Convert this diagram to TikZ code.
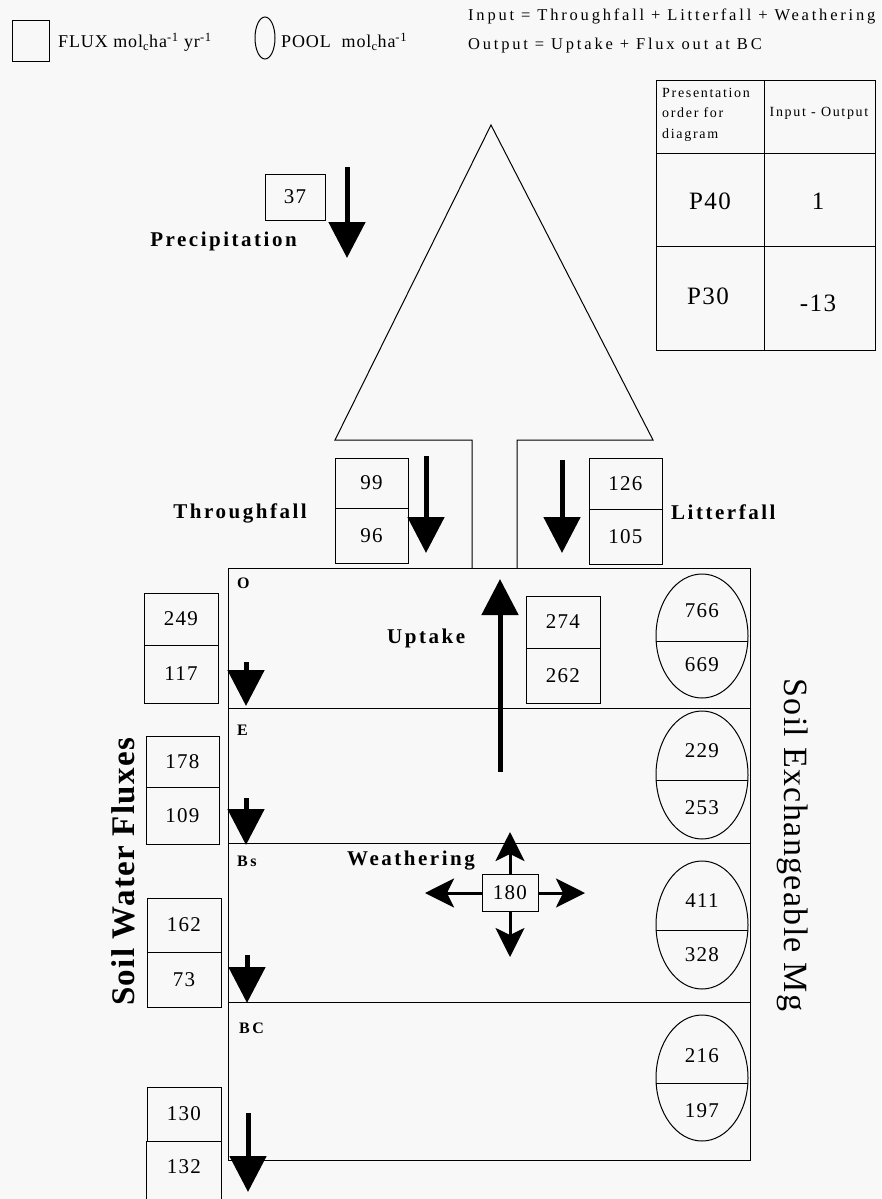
\documentclass[tikz,border=0pt]{standalone}
\usepackage{fontspec}
\setmainfont{Liberation Serif}
\newfontfamily\numfam[LetterSpace=6]{Liberation Serif}
\newfontfamily\lblfam[LetterSpace=12]{Liberation Serif}
\newfontfamily\lyrfam[LetterSpace=15]{Liberation Serif}
\newfontfamily\txtfam[LetterSpace=17]{Liberation Serif}
\newfontfamily\legfam[LetterSpace=5]{Liberation Serif}
\newfontfamily\tabfam[LetterSpace=12]{Liberation Serif}
\newfontfamily\sidefam[LetterSpace=4]{Liberation Serif}
\usetikzlibrary{arrows.meta,shapes.geometric}
\newcommand\pxsize[1]{\fontsize{#1}{#1}\selectfont}
\definecolor{paper}{RGB}{248,248,248}

\tikzset{
  rule/.style={line width=1pt},
  fluxcell/.style={draw, line width=1pt, minimum width=74pt, inner sep=0pt, font=\numfam\pxsize{21}},
  pool/.style={draw, ellipse, line width=1pt, minimum width=92pt, inner sep=0pt},
  poolnum/.style={font=\numfam\pxsize{21}, inner sep=0pt},
  fluxname/.style={font=\lblfam\bfseries\pxsize{21}, inner sep=0pt},
  layername/.style={font=\lyrfam\bfseries\pxsize{16}, inner sep=0pt, anchor=base west},
  plaintext/.style={font=\txtfam\pxsize{16.5}, inner sep=0pt, anchor=base west},
  keytext/.style={font=\legfam\pxsize{18}, inner sep=0pt, anchor=base west},
  tabtext/.style={font=\tabfam\pxsize{14}, inner sep=0pt},
  tabnum/.style={font=\numfam\pxsize{25}, inner sep=0pt},
  bigarrow/.style={line width=5pt, -{Triangle[width=36pt,length=36pt]}},
  wxarrow/.style={line width=3pt, -{Stealth[width=29pt,length=29pt,inset=7pt]}},
}

\begin{document}
\begin{tikzpicture}[x=1pt,y=-1pt]
\useasboundingbox (0,0) rectangle (881,1199);
\fill[paper] (0,0) rectangle (881,1199);

% ---- legend ----
\node[draw, rule, minimum width=37pt, minimum height=41pt, inner sep=0pt] (keyflux) at (30.5,41.5) {};
\node[keytext] (keyfluxtxt) at (58,48) {FLUX mol\textsubscript{c}ha\textsuperscript{-1} yr\textsuperscript{-1}};
\node[draw, ellipse, rule, minimum width=20pt, minimum height=42pt, inner sep=0pt] (keypool) at (265,38) {};
\node[keytext] (keypooltxt) at (281,48) {POOL\ \ mol\textsubscript{c}ha\textsuperscript{-1}};

% ---- balance definitions ----
\node[plaintext] (inputeq) at (468,21) {Input = Throughfall + Litterfall + Weathering};
\node[plaintext] (outputeq) at (468,50) {Output = Uptake + Flux out at BC};

% ---- summary table ----
\draw[rule] (656,80) rectangle (875,350);
\draw[rule] (656,153) -- (875,153);
\draw[rule] (656,246) -- (875,246);
\draw[rule] (764,80) -- (764,350);
\node[tabtext, anchor=north west, align=left, font=\tabfam\fontsize{14}{20.5}\selectfont] (thead1) at (662,88) {Presentation\\order for\\diagram};
\node[tabtext, anchor=base] (thead2) at (819,116) {Input - Output};
\node[tabnum] (p40) at (710,201) {P40};
\node[tabnum] (p40v) at (818,201) {1};
\node[tabnum] (p30) at (708,296) {P30};
\node[tabnum] (p30v) at (818,303) {-13};

% ---- canopy ----
\draw[rule] (472,568) -- (472,440) -- (335,440) -- (491,125) -- (653,440) -- (517,440) -- (517,568);

% ---- soil profile ----
\draw[rule] (228,568) rectangle (750,1160);
\foreach \yy in {708,843,1002} \draw[rule] (228,\yy) -- (750,\yy);
\node[layername] (lO) at (237,588) {O};
\node[layername] (lE) at (237,735) {E};
\node[layername] (lBs) at (237,866) {Bs};
\node[layername] (lBC) at (239,1033) {BC};

% ---- precipitation ----
\node[fluxcell, minimum width=60pt, minimum height=46pt] (prec) at (295,197) {37};
\node[fluxname, anchor=base east] (precname) at (297,246) {Precipitation};
\coordinate (prec-s) at (347,167);
\coordinate (prec-e) at (347,258);
\draw[bigarrow] (prec-s) -- (prec-e);

% ---- throughfall ----
\node[fluxcell, minimum width=73pt, minimum height=50pt] (thr-a) at (371.5,483) {99};
\node[fluxcell, minimum width=73pt, minimum height=55pt] (thr-b) at (371.5,535.5) {96};
\node[fluxname, anchor=base east] (thrname) at (307,518) {Throughfall};
\coordinate (thr-s) at (426,456);
\coordinate (thr-e) at (426,553);
\draw[bigarrow] (thr-s) -- (thr-e);

% ---- litterfall ----
\node[fluxcell, minimum width=73pt, minimum height=51pt] (lit-a) at (625.5,483.5) {126};
\node[fluxcell, minimum width=73pt, minimum height=55pt] (lit-b) at (625.5,536.5) {105};
\node[fluxname, anchor=base west] (litname) at (671,519) {Litterfall};
\coordinate (lit-s) at (562,460);
\coordinate (lit-e) at (562,553);
\draw[bigarrow] (lit-s) -- (lit-e);

% ---- uptake ----
\node[fluxcell, minimum height=52pt] (upt-a) at (563,622) {274};
\node[fluxcell, minimum height=55pt] (upt-b) at (563,675.5) {262};
\node[fluxname, anchor=base west] (uptname) at (387,643) {Uptake};
\coordinate (upt-s) at (500,772);
\coordinate (upt-e) at (500,579);
\draw[bigarrow] (upt-s) -- (upt-e);

% ---- soil water fluxes ----
\node[fluxcell, minimum height=52pt] (swO-a) at (181,619) {249};
\node[fluxcell, minimum height=58pt] (swO-b) at (181,674) {117};
\node[fluxcell, minimum width=73pt, minimum height=51pt] (swE-a) at (182.5,761.5) {178};
\node[fluxcell, minimum width=73pt, minimum height=57pt] (swE-b) at (182.5,815.5) {109};
\node[fluxcell, minimum height=54pt] (swBs-a) at (184,925) {162};
\node[fluxcell, minimum height=55pt] (swBs-b) at (184,979.5) {73};
\node[fluxcell, minimum height=54pt] (swBC-a) at (184,1114) {130};
\node[fluxcell, draw=none, minimum height=58pt] (swBC-b) at (184,1170) {};
\node[poolnum] (swBC-bt) at (184,1167) {132};
\draw[rule] (swBC-b.south west) -- (swBC-b.north west) (swBC-b.north east) -- (swBC-b.south east);

\coordinate (dO-s) at (246,662);   \coordinate (dO-e) at (246,706);
\coordinate (dE-s) at (246,798);   \coordinate (dE-e) at (246,845);
\coordinate (dBs-s) at (247,955);  \coordinate (dBs-e) at (247,1003);
\coordinate (dBC-s) at (248,1113); \coordinate (dBC-e) at (248,1192);
\draw[bigarrow] (dO-s) -- (dO-e);
\draw[bigarrow] (dE-s) -- (dE-e);
\draw[bigarrow] (dBs-s) -- (dBs-e);
\draw[bigarrow] (dBC-s) -- (dBC-e);

\node[font=\sidefam\bfseries\pxsize{33}, rotate=90, inner sep=0pt] (swname) at (123,872) {Soil Water Fluxes};

% ---- weathering ----
\node[fluxcell, minimum width=56pt, minimum height=37pt] (wx) at (510,893) {180};
\node[fluxname, anchor=base west] (wxname) at (347,865) {Weathering};
\coordinate (wx-n) at (510,832);
\coordinate (wx-s) at (510,957);
\coordinate (wx-w) at (425,893);
\coordinate (wx-e) at (585,893);
\draw[wxarrow] (wx.north) -- (wx-n);
\draw[wxarrow] (wx.south) -- (wx-s);
\draw[wxarrow] (wx.west) -- (wx-w);
\draw[wxarrow] (wx.east) -- (wx-e);

% ---- exchangeable pools ----
\node[pool, minimum height=124pt] (pO) at (702,636) {};
\draw[rule] (656,641) -- (748,641);
\node[poolnum] (pO-a) at (702,611) {766};
\node[poolnum] (pO-b) at (702,665) {669};

\node[pool, minimum height=128pt] (pE) at (702,775) {};
\draw[rule] (656,780) -- (748,780);
\node[poolnum] (pE-a) at (702,751) {229};
\node[poolnum] (pE-b) at (702,808) {253};

\node[pool, minimum height=128pt] (pBs) at (702,925) {};
\draw[rule] (656,930) -- (748,930);
\node[poolnum] (pBs-a) at (702,901) {411};
\node[poolnum] (pBs-b) at (702,955) {328};

\node[pool, minimum height=126pt] (pBC) at (702,1078) {};
\draw[rule] (656,1083) -- (748,1083);
\node[poolnum] (pBC-a) at (702,1056) {216};
\node[poolnum] (pBC-b) at (702,1111) {197};

\node[font=\sidefam\pxsize{34}, rotate=-90, inner sep=0pt] (exname) at (793,845) {Soil Exchangeable Mg};
\end{tikzpicture}
\end{document}
